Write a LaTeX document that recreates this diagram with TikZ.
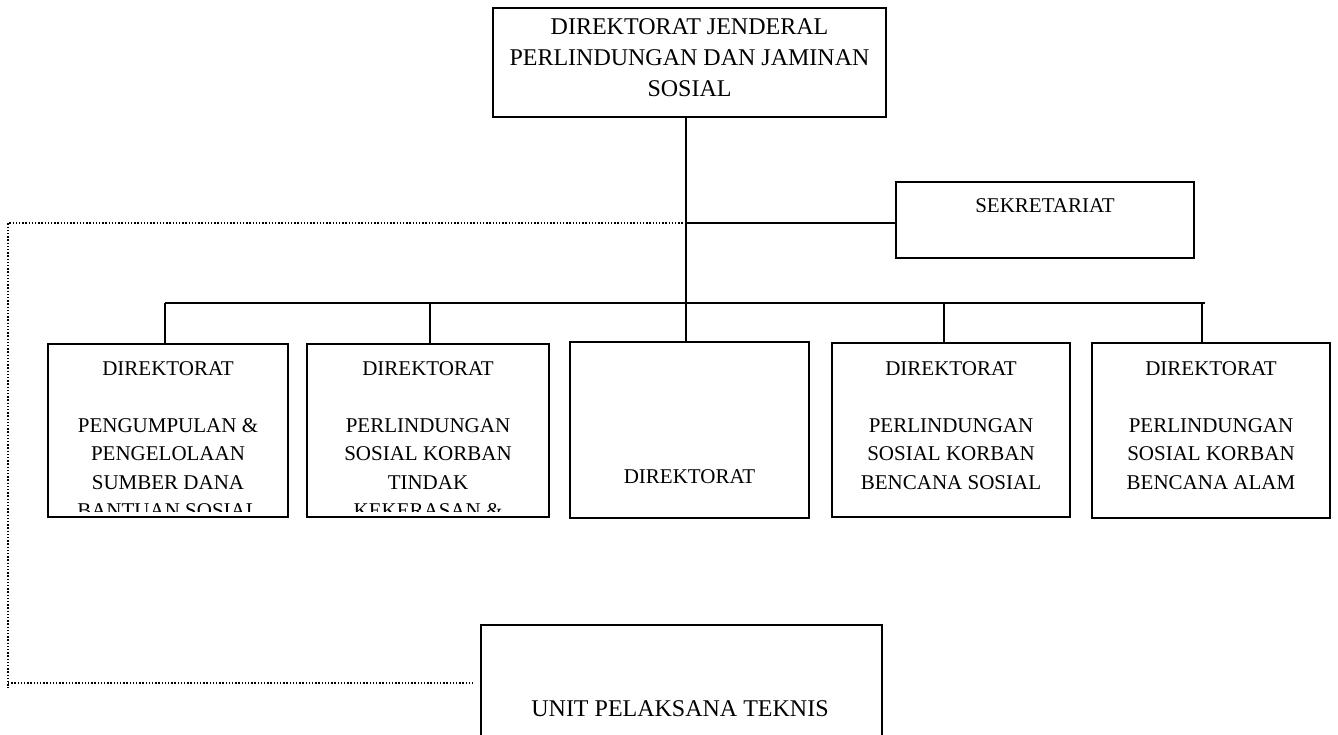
\documentclass[tikz,border=0pt]{standalone}
\usepackage{fontspec}
\setmainfont{Liberation Serif}
\begin{document}
\begin{tikzpicture}[x=1pt,y=-1pt,
  box/.style={draw, line width=1.6pt, rectangle, inner sep=0pt, outer sep=0pt},
  conn/.style={line width=1.6pt},
  dotline/.style={line width=1.7pt, dash pattern=on 1.4pt off 1.8pt},
  lbl/.style={inner sep=0pt, align=center, anchor=north, font=\fontsize{21}{28.5}\selectfont},
  biglbl/.style={inner sep=0pt, align=center, anchor=north, font=\fontsize{24}{31}\selectfont}]
\clip (0,0) rectangle (1338,734);
\fill[white] (0,0) rectangle (1338,734);

% boxes
\node[box, minimum width=393pt, minimum height=109pt] (top) at (689.5,62.5) {};
\node[box, minimum width=298pt, minimum height=76pt] (sek) at (1045,220) {};
\node[box, minimum width=240pt, minimum height=173pt] (b1) at (168,430.5) {};
\node[box, minimum width=242pt, minimum height=173pt] (b2) at (428,430.5) {};
\node[box, minimum width=239pt, minimum height=176pt] (b3) at (689.5,430) {};
\node[box, minimum width=238pt, minimum height=174pt] (b4) at (951,430) {};
\node[box, minimum width=238pt, minimum height=175pt] (b5) at (1211,430.5) {};
\node[box, minimum width=401pt, minimum height=130pt] (upt) at (681.5,690) {};

% texts
\node[biglbl] (ttop) at (689.5,18) {DIREKTORAT JENDERAL\\PERLINDUNGAN DAN JAMINAN\\SOSIAL};
\node[lbl] (tsek) at (1045,198) {SEKRETARIAT};
\begin{scope}
  \clip ([yshift=6pt]b1.south west) rectangle (b1.north east);
  \node[lbl] (tb1) at (168,361) {DIREKTORAT\\[28.5pt]PENGUMPULAN \&\\PENGELOLAAN\\SUMBER DANA\\BANTUAN SOSIAL};
\end{scope}
\begin{scope}
  \clip ([yshift=6pt]b2.south west) rectangle (b2.north east);
  \node[lbl] (tb2) at (428,361) {DIREKTORAT\\[28.5pt]PERLINDUNGAN\\SOSIAL KORBAN\\TINDAK\\KEKERASAN \&};
\end{scope}
\node[lbl] (tb3) at (689.5,469) {DIREKTORAT};
\node[lbl] (tb4) at (951,361) {DIREKTORAT\\[28.5pt]PERLINDUNGAN\\SOSIAL KORBAN\\BENCANA SOSIAL};
\node[lbl] (tb5) at (1211,361) {DIREKTORAT\\[28.5pt]PERLINDUNGAN\\SOSIAL KORBAN\\BENCANA ALAM};
\node[biglbl] (tupt) at (680,700) {UNIT PELAKSANA TEKNIS};

% connector coordinates
\coordinate (jsek) at (686,223);
\coordinate (bus) at (686,303);
\coordinate (busL) at (165,303);
\coordinate (busR) at (1205,303);
\coordinate (d1) at (165,303);
\coordinate (d2) at (430,303);
\coordinate (d3) at (686,303);
\coordinate (d4) at (944,303);
\coordinate (d5) at (1202,303);
\coordinate (dotTL) at (8,223);
\coordinate (dotBL) at (8,683);
\coordinate (dotEnd) at (8,688);
\coordinate (dotBR) at (475,683);

% solid connectors
\draw[conn] (top.south -| jsek) -- (bus);
\draw[conn] (jsek) -- (jsek -| sek.west);
\draw[conn] (busL) -- (busR);
\draw[conn] (d1) -- (d1 |- b1.north);
\draw[conn] (d2) -- (d2 |- b2.north);
\draw[conn] (d3) -- (d3 |- b3.north);
\draw[conn] (d4) -- (d4 |- b4.north);
\draw[conn] (d5) -- (d5 |- b5.north);

% dotted connector
\draw[dotline] (jsek) -- (dotTL) -- (dotEnd);
\draw[dotline] (dotBL) -- (dotBR);
\end{tikzpicture}
\end{document}
